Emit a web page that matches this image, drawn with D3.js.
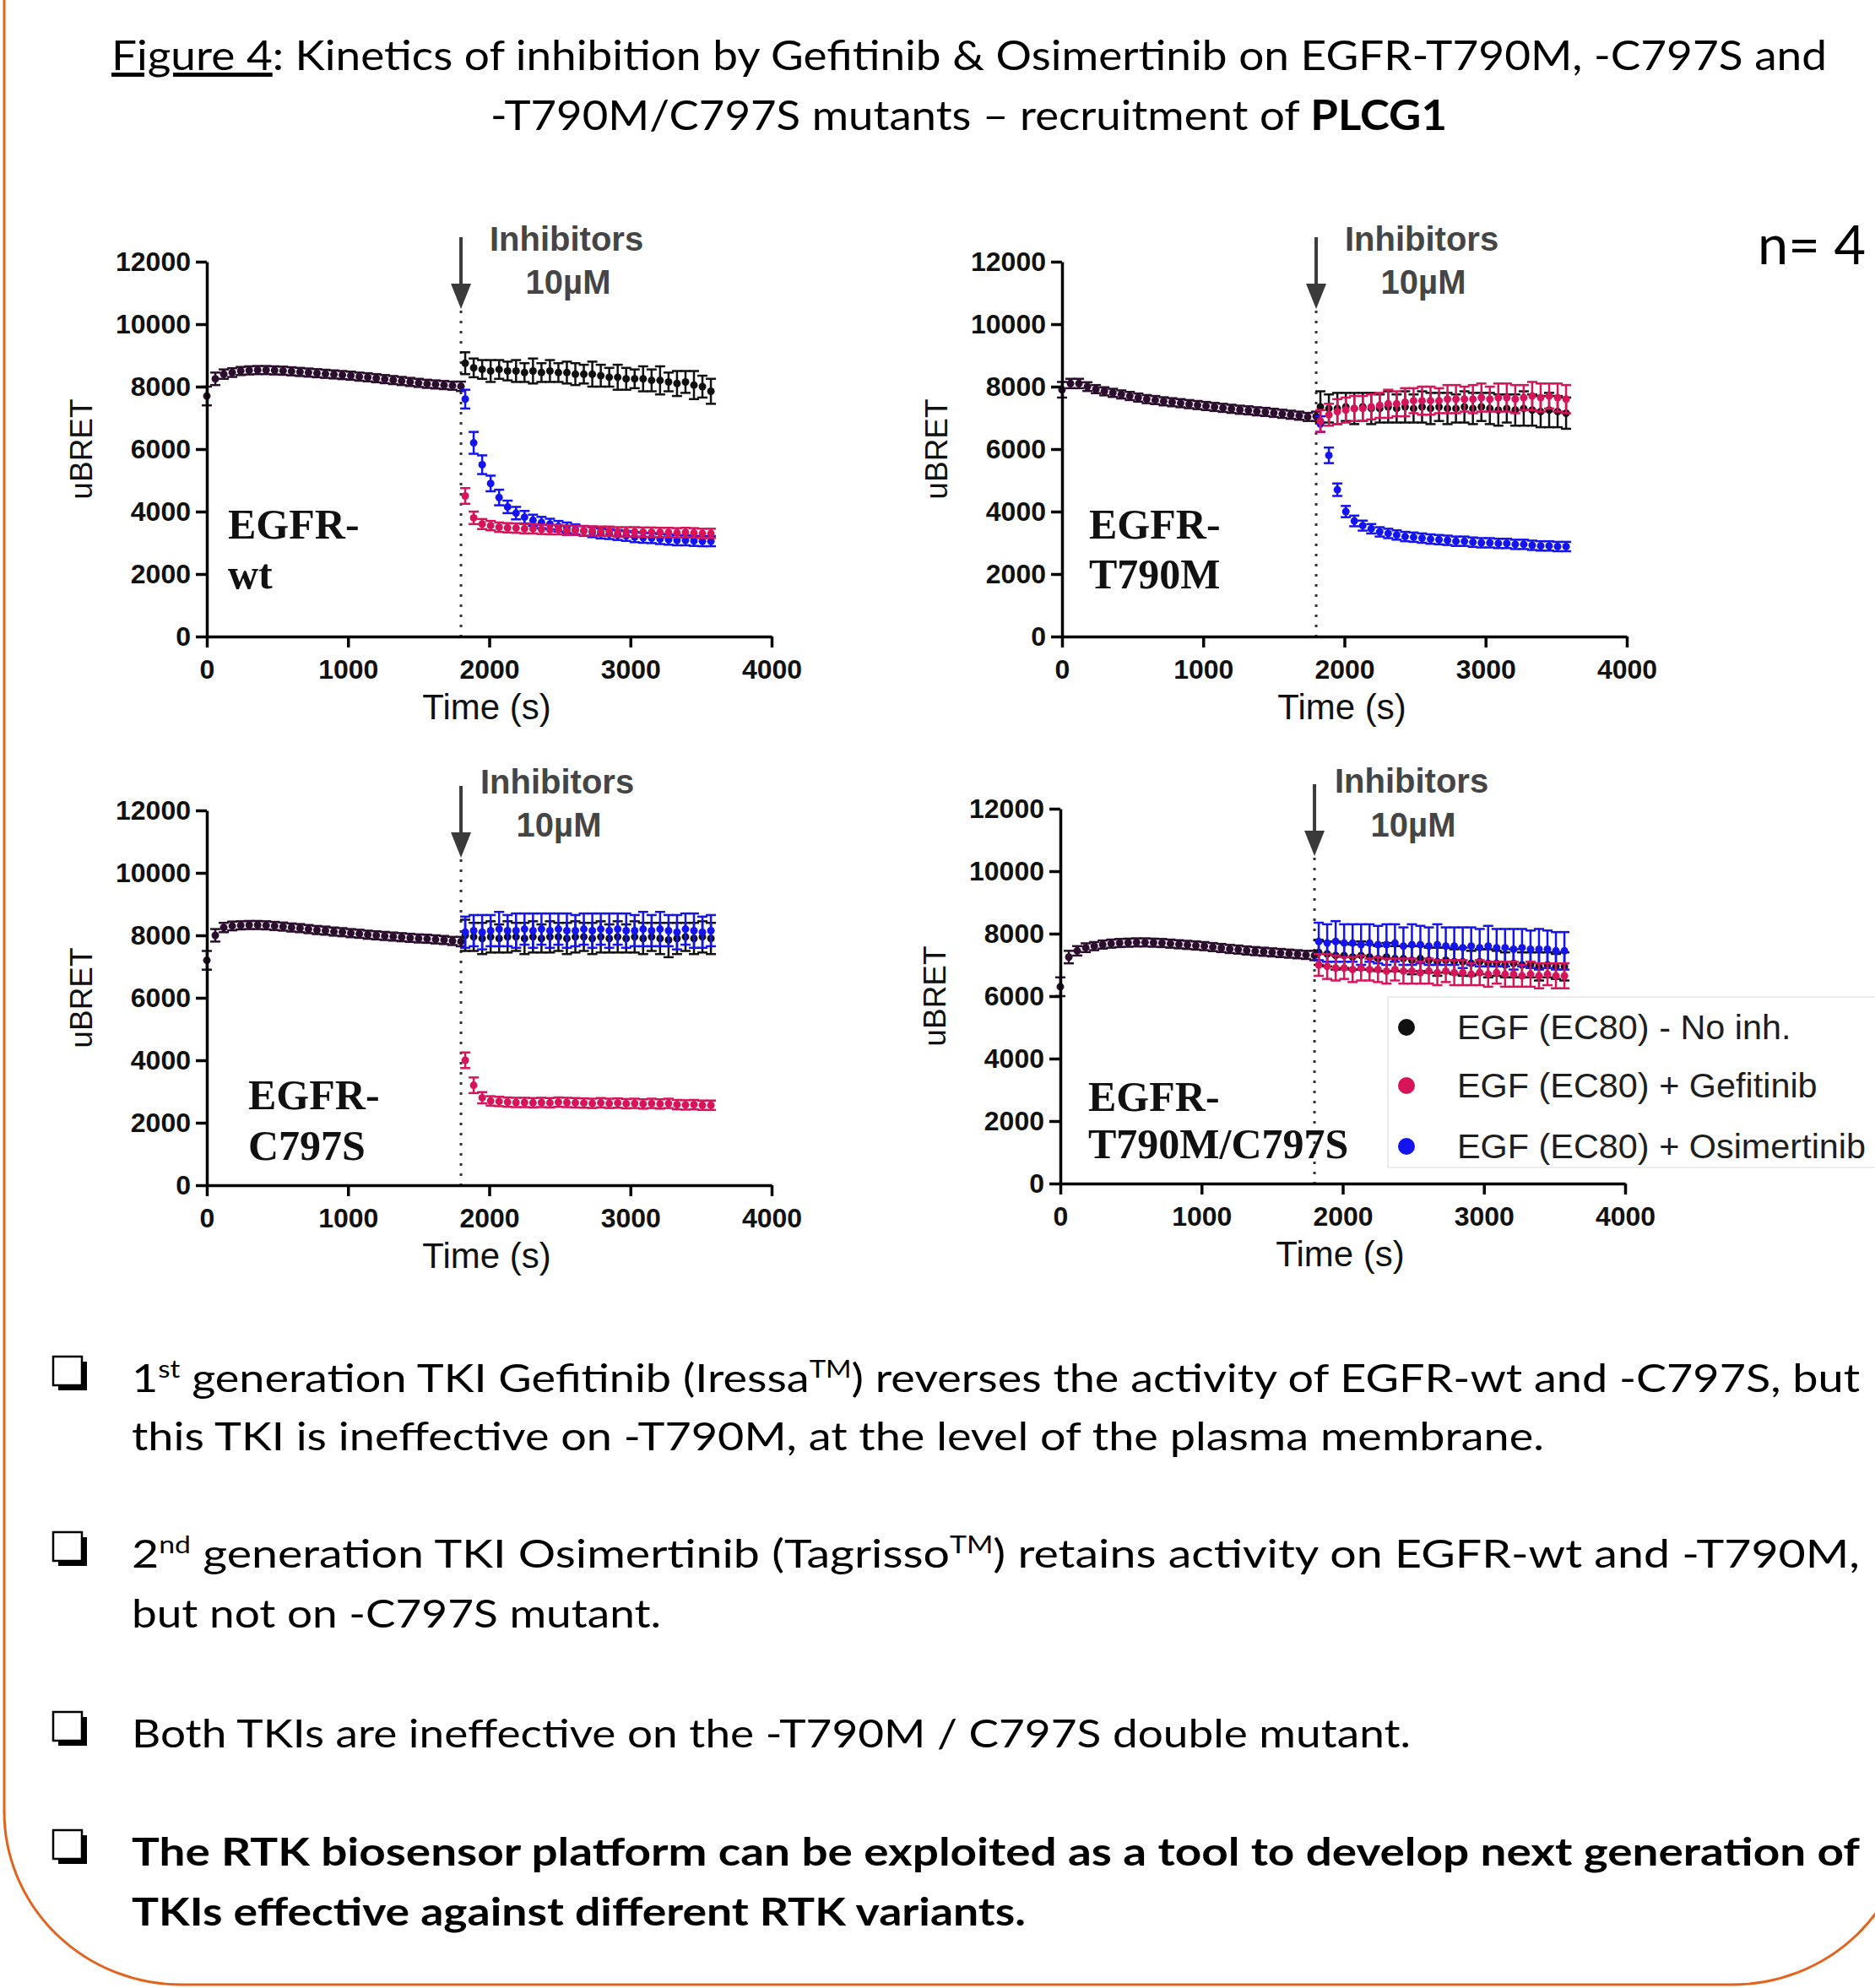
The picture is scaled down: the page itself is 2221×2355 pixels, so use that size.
<!DOCTYPE html>
<html>
<head>
<meta charset="utf-8">
<title>Figure 4 - PLCG1 recruitment kinetics</title>
<script src="https://cdn.jsdelivr.net/npm/d3@7/dist/d3.min.js"></script>
<style>
  html, body { margin: 0; padding: 0; background: #fff; }
  svg { display: block; }
</style>
</head>
<body>
<div id="figure"></div>
<script>
// sampling times (s): before and after inhibitor addition at 1800 s
const preTimes = [0, 60, 120, 180, 240, 300, 360, 420, 480, 540, 600, 660, 720, 780, 840, 900, 960, 1020, 1080, 1140, 1200, 1260, 1320, 1380, 1440, 1500, 1560, 1620, 1680, 1740, 1800];
const postTimes = [1830, 1890, 1950, 2010, 2070, 2130, 2190, 2250, 2310, 2370, 2430, 2490, 2550, 2610, 2670, 2730, 2790, 2850, 2910, 2970, 3030, 3090, 3150, 3210, 3270, 3330, 3390, 3450, 3510, 3570];
const xTicks = [0, 1000, 2000, 3000, 4000];
const yTicks = [0, 2000, 4000, 6000, 8000, 10000, 12000];
const legendLabels = ['EGF (EC80) - No inh.', 'EGF (EC80) + Gefitinib', 'EGF (EC80) + Osimertinib'];

// EGFR-wt
const wtPre = [7700, 8250, 8400, 8450, 8500, 8520, 8530, 8530, 8520, 8510, 8490, 8470, 8450, 8430, 8410, 8390, 8370, 8350, 8320, 8300, 8270, 8240, 8210, 8180, 8150, 8120, 8090, 8070, 8050, 8030, 8010];
const wtPreErr = [300, 200, 150, 140, 130, 130, 130, 130, 130, 130, 130, 130, 130, 130, 130, 130, 130, 130, 130, 130, 130, 130, 130, 130, 130, 130, 130, 130, 130, 130, 150];
const wtNoInh = [8750, 8600, 8550, 8500, 8550, 8500, 8500, 8450, 8500, 8450, 8500, 8450, 8450, 8400, 8400, 8400, 8350, 8300, 8300, 8250, 8250, 8250, 8200, 8200, 8150, 8100, 8150, 8050, 8000, 7850];
const wtNoInhErr = [350, 300, 300, 350, 300, 300, 350, 300, 400, 300, 350, 300, 350, 350, 300, 400, 350, 300, 400, 350, 300, 400, 350, 450, 300, 400, 350, 450, 350, 400];
const wtGef = [4500, 3800, 3600, 3550, 3500, 3480, 3470, 3450, 3450, 3430, 3420, 3420, 3400, 3400, 3380, 3380, 3370, 3370, 3350, 3350, 3350, 3340, 3340, 3330, 3330, 3320, 3330, 3320, 3300, 3300];
const wtGefErr = [250, 200, 160, 150, 150, 150, 150, 150, 150, 150, 150, 150, 150, 150, 150, 150, 150, 150, 150, 150, 150, 150, 150, 150, 150, 150, 150, 150, 150, 150];
const wtOsi = [7600, 6200, 5500, 4900, 4450, 4150, 3950, 3820, 3720, 3650, 3600, 3530, 3480, 3430, 3380, 3340, 3300, 3280, 3250, 3220, 3180, 3160, 3150, 3120, 3100, 3080, 3080, 3060, 3050, 3050];
const wtOsiErr = [300, 350, 300, 250, 250, 200, 200, 200, 180, 180, 170, 170, 170, 160, 160, 160, 160, 160, 160, 160, 160, 160, 160, 160, 160, 160, 160, 160, 160, 160];

// EGFR-T790M
const tmPre = [7900, 8100, 8100, 8000, 7920, 7850, 7800, 7750, 7700, 7650, 7600, 7570, 7530, 7500, 7470, 7440, 7410, 7380, 7350, 7320, 7290, 7260, 7240, 7210, 7190, 7160, 7130, 7100, 7070, 7030, 7050];
const tmPreErr = [250, 150, 150, 140, 130, 130, 130, 130, 130, 130, 130, 130, 130, 130, 130, 130, 130, 130, 130, 130, 130, 130, 130, 130, 130, 130, 130, 130, 130, 130, 150];
const tmNoInh = [7350, 7300, 7300, 7350, 7300, 7350, 7300, 7300, 7350, 7300, 7350, 7300, 7350, 7300, 7350, 7300, 7300, 7350, 7300, 7350, 7300, 7250, 7300, 7250, 7300, 7250, 7200, 7250, 7200, 7150];
const tmNoInhErr = [500, 450, 500, 450, 500, 450, 500, 450, 500, 450, 500, 450, 500, 500, 450, 500, 450, 500, 500, 450, 500, 500, 450, 500, 550, 500, 500, 550, 500, 500];
const tmGef = [6900, 7100, 7200, 7250, 7300, 7300, 7350, 7400, 7450, 7450, 7500, 7550, 7550, 7550, 7550, 7600, 7600, 7600, 7600, 7650, 7600, 7650, 7650, 7600, 7650, 7700, 7650, 7700, 7650, 7600];
const tmGefErr = [350, 350, 400, 400, 400, 400, 400, 400, 450, 400, 450, 400, 450, 450, 400, 450, 450, 400, 450, 450, 400, 450, 450, 450, 400, 450, 450, 400, 450, 450];
const tmOsi = [6800, 5800, 4700, 4000, 3700, 3550, 3450, 3350, 3300, 3250, 3200, 3180, 3150, 3120, 3100, 3080, 3050, 3050, 3020, 3000, 3000, 2980, 2980, 2950, 2950, 2920, 2900, 2900, 2880, 2880];
const tmOsiErr = [250, 250, 200, 180, 170, 160, 150, 150, 150, 150, 150, 150, 150, 150, 150, 150, 150, 150, 150, 150, 150, 150, 150, 150, 150, 150, 150, 150, 150, 150];

// EGFR-C797S
const csPre = [7200, 8000, 8250, 8300, 8320, 8330, 8330, 8320, 8300, 8280, 8250, 8230, 8200, 8170, 8150, 8120, 8100, 8070, 8050, 8020, 8000, 7980, 7960, 7940, 7920, 7900, 7890, 7870, 7850, 7820, 7800];
const csPreErr = [300, 200, 150, 140, 130, 130, 130, 130, 130, 130, 130, 130, 130, 130, 130, 130, 130, 130, 130, 130, 130, 130, 130, 130, 130, 130, 130, 130, 130, 130, 150];
const csNoInh = [8000, 7950, 7900, 7950, 7900, 7950, 7950, 7900, 7950, 7900, 7950, 7950, 7900, 7950, 7950, 7900, 7950, 7900, 7950, 7900, 7950, 7900, 7950, 7900, 7850, 7900, 7950, 7900, 7950, 7900];
const csNoInhErr = [500, 450, 500, 500, 450, 500, 450, 500, 500, 450, 500, 450, 500, 500, 450, 500, 500, 450, 500, 450, 500, 500, 450, 500, 550, 500, 450, 500, 500, 500];
const csGef = [4000, 3200, 2800, 2700, 2680, 2660, 2650, 2650, 2640, 2650, 2640, 2660, 2650, 2640, 2630, 2620, 2640, 2620, 2630, 2610, 2620, 2600, 2620, 2600, 2620, 2580, 2570, 2580, 2560, 2560];
const csGefErr = [250, 250, 180, 150, 150, 150, 150, 150, 150, 150, 150, 150, 150, 150, 150, 150, 150, 150, 150, 150, 150, 150, 150, 150, 150, 150, 150, 150, 150, 150];
const csOsi = [8100, 8150, 8100, 8150, 8200, 8150, 8150, 8200, 8150, 8200, 8150, 8200, 8150, 8150, 8200, 8150, 8200, 8150, 8200, 8150, 8150, 8200, 8150, 8200, 8150, 8100, 8200, 8150, 8100, 8150];
const csOsiErr = [500, 500, 550, 500, 550, 500, 550, 500, 550, 500, 550, 500, 550, 500, 500, 550, 500, 550, 500, 550, 500, 550, 500, 550, 500, 550, 500, 550, 500, 500];

// EGFR-T790M/C797S
const dmPre = [6300, 7250, 7450, 7550, 7600, 7650, 7680, 7700, 7710, 7720, 7720, 7710, 7700, 7680, 7660, 7640, 7620, 7600, 7570, 7540, 7510, 7490, 7460, 7440, 7420, 7400, 7380, 7360, 7340, 7320, 7300];
const dmPreErr = [300, 200, 150, 140, 130, 130, 130, 130, 130, 130, 130, 130, 130, 130, 130, 130, 130, 130, 130, 130, 130, 130, 130, 130, 130, 130, 130, 130, 130, 130, 150];
const dmNoInh = [7400, 7350, 7300, 7300, 7250, 7300, 7250, 7200, 7250, 7200, 7200, 7150, 7200, 7150, 7100, 7150, 7100, 7100, 7050, 7100, 7050, 7050, 7000, 7050, 7000, 7000, 6950, 7000, 6950, 6950];
const dmNoInhErr = [400, 400, 450, 400, 400, 450, 400, 400, 450, 400, 400, 450, 400, 400, 450, 400, 400, 450, 400, 400, 450, 400, 400, 450, 400, 400, 450, 400, 400, 450];
const dmGef = [7000, 6950, 6900, 6900, 6850, 6900, 6850, 6850, 6800, 6850, 6800, 6800, 6750, 6800, 6750, 6800, 6750, 6750, 6700, 6750, 6700, 6750, 6700, 6700, 6650, 6700, 6650, 6700, 6650, 6650];
const dmGefErr = [350, 400, 400, 350, 400, 400, 350, 400, 400, 350, 400, 400, 350, 400, 400, 350, 400, 400, 350, 400, 400, 350, 400, 400, 350, 400, 400, 350, 400, 400];
const dmOsi = [7750, 7700, 7750, 7700, 7700, 7650, 7700, 7650, 7650, 7700, 7600, 7650, 7650, 7600, 7650, 7600, 7600, 7550, 7600, 7550, 7600, 7550, 7550, 7500, 7550, 7500, 7500, 7500, 7450, 7450];
const dmOsiErr = [600, 600, 650, 600, 600, 650, 600, 600, 650, 600, 600, 650, 600, 600, 650, 600, 600, 650, 600, 600, 650, 600, 600, 650, 600, 600, 650, 600, 600, 600];

const width = 2221;
const height = 2355;
const plotW = 669;
const plotH = 444;
const colors = { pre: '#2b0d2d', noInh: '#111111', gef: '#d7145a', osi: '#1414f0' };
const sans = '"Liberation Sans", Arial, sans-serif';
const serif = '"Liberation Serif", "Times New Roman", serif';
const body = 'Lato, "Open Sans", sans-serif';

const svg = d3.select('#figure').append('svg')
    .attr('width', width)
    .attr('height', height)
    .attr('viewBox', `0 0 ${width} ${height}`);

svg.append('rect').attr('width', width).attr('height', height).attr('fill', '#ffffff');

// orange rounded frame (top and right side run off the slide)
const fL = 5, fR = 2262, fB = 2351, rx = 210, ry = 205;
svg.append('path')
    .attr('d', `M${fL},-60 V${fB - ry} A${rx},${ry} 0 0 0 ${fL + rx},${fB} H${fR - rx} A${rx},${ry} 0 0 0 ${fR},${fB - ry} V-60`)
    .attr('fill', 'none')
    .attr('stroke', '#e3631c')
    .attr('stroke-width', 3);

// title
const title1 = svg.append('text')
    .attr('x', 132).attr('y', 83)
    .attr('textLength', 2032).attr('lengthAdjust', 'spacingAndGlyphs')
    .style('font-family', body).style('font-size', '49px').attr('fill', '#000');
title1.append('tspan').style('text-decoration', 'underline').text('Figure 4');
title1.append('tspan').text(': Kinetics of inhibition by Gefitinib & Osimertinib on EGFR-T790M, -C797S and');
const title2 = svg.append('text')
    .attr('x', 581).attr('y', 154)
    .attr('textLength', 1133).attr('lengthAdjust', 'spacingAndGlyphs')
    .style('font-family', body).style('font-size', '49px').attr('fill', '#000');
title2.append('tspan').text('-T790M/C797S mutants \u2013 recruitment of ');
title2.append('tspan').style('font-weight', 700).text('PLCG1');

svg.append('text')
    .attr('x', 2082).attr('y', 313)
    .attr('textLength', 128).attr('lengthAdjust', 'spacingAndGlyphs')
    .style('font-family', body).style('font-size', '64px').attr('fill', '#000')
    .text('n= 4');

const panels = [
    { left: 245, top: 310, name: ['EGFR-', 'wt'], nameX: 25, nameY: [-116, -57], inhDx: 125, inhY: [-13, 38],
      pre: [wtPre, wtPreErr], noInh: [wtNoInh, wtNoInhErr], gef: [wtGef, wtGefErr], osi: [wtOsi, wtOsiErr] },
    { left: 1258, top: 310, name: ['EGFR-', 'T790M'], nameX: 32, nameY: [-116, -57], inhDx: 125, inhY: [-13, 38],
      pre: [tmPre, tmPreErr], noInh: [tmNoInh, tmNoInhErr], gef: [tmGef, tmGefErr], osi: [tmOsi, tmOsiErr] },
    { left: 245, top: 960, name: ['EGFR-', 'C797S'], nameX: 49, nameY: [-90, -30], inhDx: 114, inhY: [-20, 31],
      pre: [csPre, csPreErr], noInh: [csNoInh, csNoInhErr], gef: [csGef, csGefErr], osi: [csOsi, csOsiErr] },
    { left: 1256, top: 958, name: ['EGFR-', 'T790M/C797S'], nameX: 33, nameY: [-86, -30], inhDx: 115, inhY: [-19, 33],
      pre: [dmPre, dmPreErr], noInh: [dmNoInh, dmNoInhErr], gef: [dmGef, dmGefErr], osi: [dmOsi, dmOsiErr] }
];

const x = d3.scaleLinear().domain([0, 4000]).range([0, plotW]);
const y = d3.scaleLinear().domain([0, 12000]).range([plotH, 0]);

function drawSeries(g, times, vals, errs, color) {
    const pts = times.map((t, i) => ({ t, v: vals[i], e: errs[i] }));
    const s = g.append('g');
    s.selectAll(null).data(pts).enter().append('line')
        .attr('x1', d => x(d.t)).attr('x2', d => x(d.t))
        .attr('y1', d => y(d.v - d.e)).attr('y2', d => y(d.v + d.e))
        .attr('stroke', color).attr('stroke-width', 2.5);
    [-1, 1].forEach(sign => {
        s.selectAll(null).data(pts).enter().append('line')
            .attr('x1', d => x(d.t) - 6).attr('x2', d => x(d.t) + 6)
            .attr('y1', d => y(d.v + sign * d.e)).attr('y2', d => y(d.v + sign * d.e))
            .attr('stroke', color).attr('stroke-width', 2.5);
    });
    s.selectAll(null).data(pts).enter().append('circle')
        .attr('cx', d => x(d.t)).attr('cy', d => y(d.v))
        .attr('r', 4.5)
        .attr('fill', color);
}

panels.forEach(p => {
    const g = svg.append('g').attr('transform', `translate(${p.left},${p.top})`);
    const xi = x(1800);

    // inhibitor addition marker
    g.append('line')
        .attr('x1', xi).attr('x2', xi).attr('y1', 58).attr('y2', plotH)
        .attr('stroke', '#333').attr('stroke-width', 3).attr('stroke-dasharray', '3,9');

    drawSeries(g, preTimes, p.pre[0], p.pre[1], colors.pre);
    drawSeries(g, postTimes, p.noInh[0], p.noInh[1], colors.noInh);
    drawSeries(g, postTimes, p.osi[0], p.osi[1], colors.osi);
    drawSeries(g, postTimes, p.gef[0], p.gef[1], colors.gef);

    const xAxis = g.append('g')
        .attr('transform', `translate(0,${plotH})`)
        .call(d3.axisBottom(x).tickValues(xTicks).tickFormat(d3.format('d'))
            .tickSize(13).tickSizeOuter(0).tickPadding(14));
    const yAxis = g.append('g')
        .call(d3.axisLeft(y).tickValues(yTicks).tickFormat(d3.format('d'))
            .tickSize(13).tickSizeOuter(0).tickPadding(6));
    [xAxis, yAxis].forEach(a => {
        a.select('.domain').attr('stroke', '#000').attr('stroke-width', 3.5);
        a.selectAll('.tick line').attr('stroke', '#000').attr('stroke-width', 3.5);
        a.selectAll('text')
            .attr('fill', '#111')
            .style('font-family', sans)
            .style('font-size', '32px')
            .style('font-weight', 700);
    });

    g.append('text')
        .attr('x', plotW / 2 - 3).attr('y', plotH + 98)
        .attr('text-anchor', 'middle')
        .style('font-family', sans).style('font-size', '42px').attr('fill', '#111')
        .text('Time (s)');
    g.append('text')
        .attr('transform', `translate(-136,${plotH / 2}) rotate(-90)`)
        .attr('text-anchor', 'middle')
        .style('font-family', sans).style('font-size', '37px').attr('fill', '#111')
        .text('uBRET');

    // arrow + annotation
    g.append('line')
        .attr('x1', xi).attr('x2', xi).attr('y1', -29).attr('y2', 30)
        .attr('stroke', '#3a3a3a').attr('stroke-width', 4);
    g.append('path')
        .attr('d', `M${xi - 12},26 L${xi + 12},26 L${xi},56 Z`)
        .attr('fill', '#3a3a3a');
    g.append('text')
        .attr('x', xi + p.inhDx).attr('y', p.inhY[0])
        .attr('text-anchor', 'middle')
        .style('font-family', sans).style('font-size', '40px').style('font-weight', 700)
        .attr('fill', '#454545')
        .text('Inhibitors');
    g.append('text')
        .attr('x', xi + p.inhDx + 2).attr('y', p.inhY[1])
        .attr('text-anchor', 'middle')
        .style('font-family', sans).style('font-size', '40px').style('font-weight', 700)
        .attr('fill', '#454545')
        .text('10\u00b5M');

    g.selectAll(null).data(p.name).enter().append('text')
        .attr('x', p.nameX)
        .attr('y', (d, i) => plotH + p.nameY[i])
        .style('font-family', serif).style('font-size', '50px').style('font-weight', 700)
        .attr('fill', '#111')
        .text(d => d);
});

// legend (sits over the lower-right panel, box runs off the right edge)
const legend = svg.append('g').attr('transform', 'translate(1644,1181)');
legend.append('rect')
    .attr('width', 640).attr('height', 202)
    .attr('fill', '#ffffff').attr('stroke', '#e6e6e6').attr('stroke-width', 1.5);
const legendColors = [colors.noInh, colors.gef, colors.osi];
const rows = legend.selectAll(null).data(legendLabels).enter().append('g')
    .attr('transform', (d, i) => `translate(0,${[36, 105, 177][i]})`);
rows.append('circle').attr('cx', 22).attr('r', 10).attr('fill', (d, i) => legendColors[i]);
rows.append('text')
    .attr('transform', 'translate(82,14) scale(1.035,1)')
    .style('font-family', sans).style('font-size', '40px').attr('fill', '#1e1e1e')
    .text(d => d);

// conclusions
const bullets = [
    { y: [1649, 1718], len: [2047, 1673], bold: false, lines: [
        [['1'], ['st', 'sup'], [' generation TKI Gefitinib (Iressa'], ['TM', 'sup'], [') reverses the activity of EGFR-wt and -C797S, but']],
        [['this TKI is ineffective on -T790M, at the level of the plasma membrane.']] ] },
    { y: [1857, 1928], len: [2047, 627], bold: false, lines: [
        [['2'], ['nd', 'sup'], [' generation TKI Osimertinib (Tagrisso'], ['TM', 'sup'], [') retains activity on EGFR-wt and -T790M,']],
        [['but not on -C797S mutant.']] ] },
    { y: [2070], len: [1515], bold: false, lines: [
        [['Both TKIs are ineffective on the -T790M / C797S double mutant.']] ] },
    { y: [2210, 2281], len: [2047, 1059], bold: true, lines: [
        [['The RTK biosensor platform can be exploited as a tool to develop next generation of']],
        [['TKIs effective against different RTK variants.']] ] }
];

bullets.forEach(b => {
    const by = b.y[0];
    svg.append('rect').attr('x', 69).attr('y', by - 36).attr('width', 34).attr('height', 34).attr('fill', '#000');
    svg.append('rect').attr('x', 63).attr('y', by - 42).attr('width', 34).attr('height', 34)
        .attr('fill', '#fff').attr('stroke', '#000').attr('stroke-width', 2.5);
    b.lines.forEach((parts, li) => {
        const t = svg.append('text')
            .attr('x', 156).attr('y', b.y[li])
            .attr('textLength', b.len[li]).attr('lengthAdjust', 'spacingAndGlyphs')
            .style('font-family', body).style('font-size', '46px')
            .style('font-weight', b.bold ? 700 : 400)
            .attr('fill', '#000');
        let raised = false;
        parts.forEach(([str, kind]) => {
            const ts = t.append('tspan').text(str);
            if (kind === 'sup') {
                ts.style('font-size', '28px').attr('dy', raised ? 0 : -17);
                raised = true;
            } else if (raised) {
                ts.attr('dy', 17);
                raised = false;
            }
        });
    });
});
</script>
</body>
</html>
